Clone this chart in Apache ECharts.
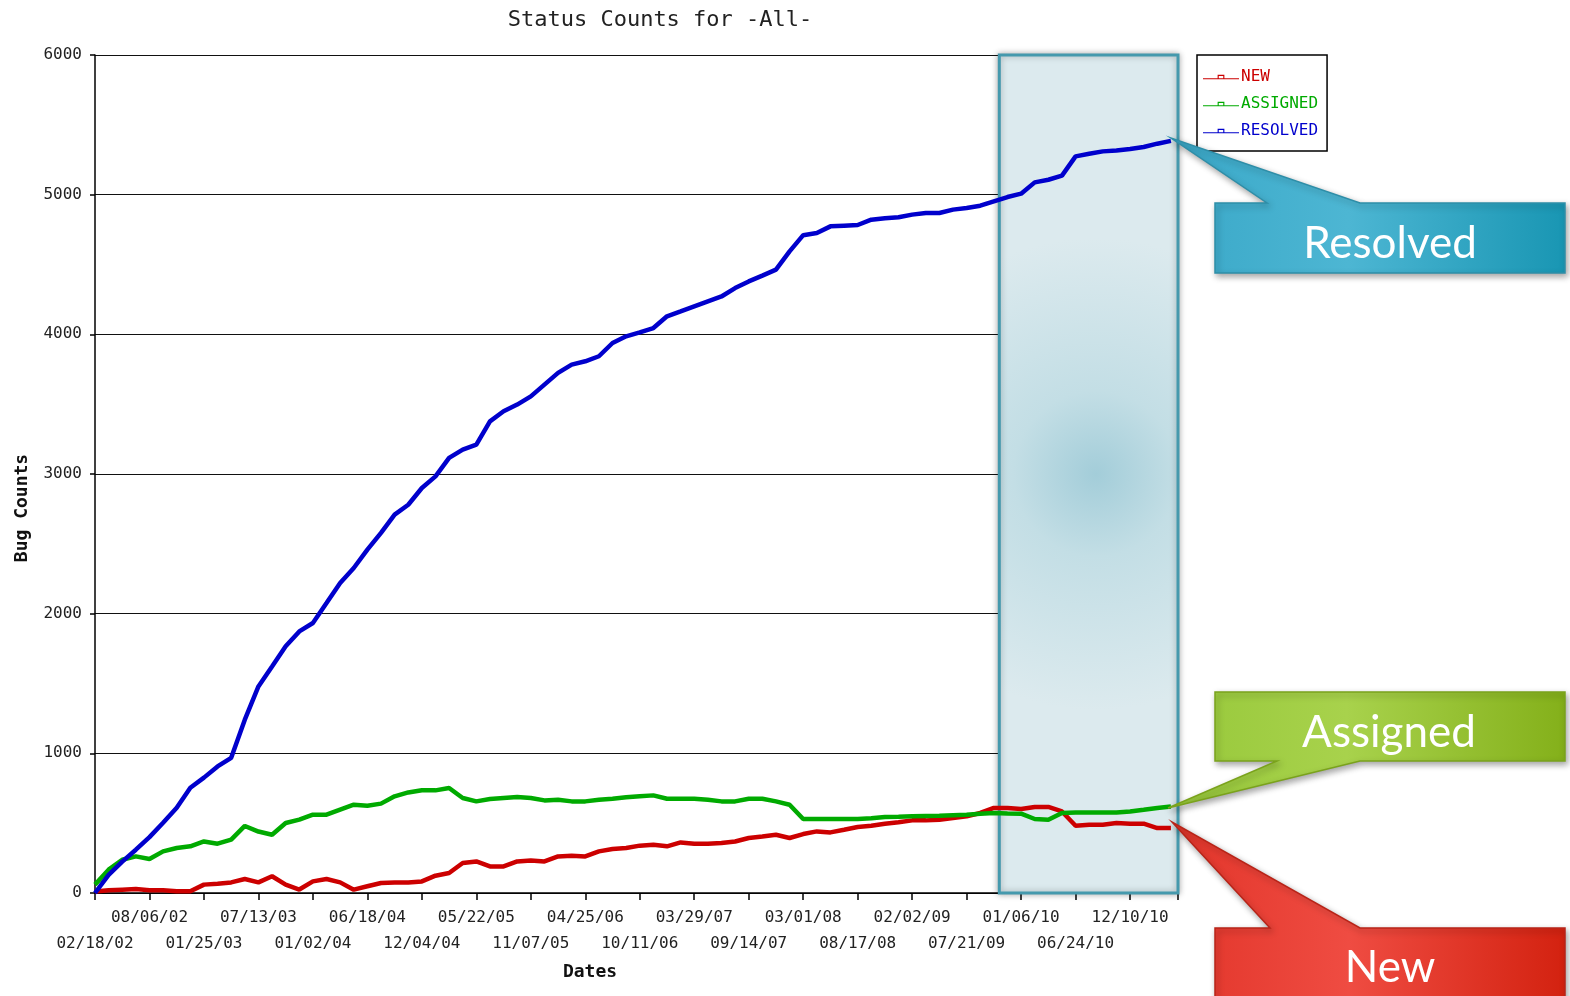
<!DOCTYPE html>
<html lang="en">
<head>
    <meta charset="utf-8">
    <title>Status Counts for -All-</title>
    <script src="https://cdn.jsdelivr.net/npm/echarts@6/dist/echarts.min.js"></script>
    <style>
        html, body { margin: 0; padding: 0; background: #fff; }
        #chart { width: 1570px; height: 996px; }
    </style>
</head>
<body>
    <div id="chart"></div>

    <script>
        // tick labels along the date axis (one per tick, 169 days apart)
        const tickLabels = ['02/18/02', '08/06/02', '01/25/03', '07/13/03', '01/02/04', '06/18/04',
            '12/04/04', '05/22/05', '11/07/05', '04/25/06', '10/11/06', '03/29/07', '09/14/07',
            '03/01/08', '08/17/08', '02/02/09', '07/21/09', '01/06/10', '06/24/10', '12/10/10'];

        // values read every quarter tick interval
        const newCounts = [
            10, 19, 24, 29, 19, 19, 12, 12,
            60, 67, 76, 100, 76, 120, 60, 25,
            83, 100, 76, 24, 48, 72, 76, 76,
            83, 124, 143, 215, 226, 190, 190, 226,
            233, 226, 262, 267, 262, 298, 315, 322,
            339, 346, 334, 362, 353, 353, 358, 369,
            394, 405, 417, 394, 422, 441, 434, 453,
            473, 482, 496, 506, 520, 520, 525, 537,
            549, 573, 609, 609, 601, 616, 616, 584,
            482, 489, 489, 501, 496, 496, 465, 465
        ];
        const assignedCounts = [
            60, 167, 238, 262, 243, 298, 322, 334,
            369, 353, 382, 480, 440, 417, 501, 525,
            561, 561, 597, 632, 625, 640, 692, 720,
            735, 735, 752, 680, 656, 673, 680, 687,
            680, 663, 668, 656, 656, 668, 675, 685,
            692, 699, 675, 675, 675, 668, 656, 656,
            675, 675, 656, 632, 530, 530, 530, 530,
            530, 535, 544, 546, 549, 551, 553, 557,
            561, 567, 573, 570, 568, 530, 525, 573,
            577, 577, 577, 577, 584, 596, 609, 620
        ];
        const resolvedCounts = [
            0, 130, 225, 310, 400, 503, 611, 754,
            826, 906, 968, 1241, 1479, 1622, 1766, 1873,
            1933, 2076, 2220, 2327, 2458, 2578, 2709, 2780,
            2900, 2983, 3115, 3174, 3210, 3377, 3449, 3497,
            3556, 3640, 3724, 3783, 3807, 3843, 3938, 3986,
            4014, 4045, 4129, 4164, 4200, 4236, 4271, 4331,
            4379, 4420, 4463, 4594, 4710, 4725, 4773, 4778,
            4783, 4821, 4831, 4838, 4857, 4869, 4869, 4893,
            4905, 4921, 4952, 4983, 5007, 5088, 5107, 5136,
            5274, 5293, 5310, 5317, 5327, 5341, 5365, 5385
        ];
        const seriesNames = ['NEW', 'ASSIGNED', 'RESOLVED'];
        const seriesColors = ['#cc0000', '#00aa00', '#0000cc'];
        const highlightRange = [16.6, 19.88];   // in tick intervals
        const axisEnd = 19.88;

        const mono = '"DejaVu Sans Mono", "Liberation Mono", monospace';
        const calloutFont = 'Lato, "Open Sans", sans-serif';

        // sample i sits at i/4 tick intervals
        function toPoints(values) {
            return values.map((v, i) => [i / 4, v]);
        }

        // odd ticks go on the upper label row, even ticks on the lower one
        function rowFormatter(parity) {
            return function (v) {
                const i = Math.round(v);
                if (Math.abs(v - i) > 1e-6 || i >= tickLabels.length || i % 2 !== parity) return '';
                return tickLabels[i];
            };
        }

        const legendIcon = 'path://M0,6 H13 V3 H19 V6 H32 V7 H0 Z M14,4 V6 H18 V4 Z';

        function callout(points, colors, text, textX, textY) {
            return [{
                type: 'polygon',
                shape: { points: points },
                style: {
                    fill: {
                        type: 'linear', x: 0, y: 0, x2: 1, y2: 0,
                        colorStops: [
                            { offset: 0, color: colors[0] },
                            { offset: 0.45, color: colors[1] },
                            { offset: 1, color: colors[2] }
                        ]
                    },
                    stroke: colors[3],
                    lineWidth: 1.5,
                    shadowBlur: 6,
                    shadowOffsetX: 2,
                    shadowOffsetY: 3,
                    shadowColor: 'rgba(0,0,0,0.35)'
                },
                z: 20
            }, {
                type: 'text',
                x: textX,
                y: textY,
                style: {
                    text: text,
                    fill: '#fff',
                    font: '44px ' + calloutFont,
                    align: 'center',
                    verticalAlign: 'middle'
                },
                z: 21
            }];
        }

        const chart = echarts.init(document.getElementById('chart'));

        const labelStyle = { fontFamily: mono, fontSize: 16, color: '#222' };

        const option = {
            animation: false,
            backgroundColor: '#fff',
            grid: { left: 95, right: 392, top: 55, bottom: 103 },
            legend: {
                orient: 'vertical',
                left: 1197,
                top: 55,
                padding: [14, 9, 12, 6],
                itemGap: 11,
                itemWidth: 36,
                itemHeight: 10,
                selectedMode: false,
                borderColor: '#000',
                borderWidth: 1.5,
                backgroundColor: '#fff',
                textStyle: { fontFamily: mono, fontSize: 16, padding: [0, 0, 0, -3] },
                data: seriesNames.map((n, i) => ({
                    name: n,
                    icon: legendIcon,
                    textStyle: { color: seriesColors[i] }
                }))
            },
            xAxis: [
                {
                    type: 'value',
                    min: 0,
                    max: axisEnd,
                    interval: 1,
                    splitLine: { show: false },
                    axisLine: { lineStyle: { color: '#000', width: 1.5 } },
                    axisTick: { length: 7, lineStyle: { color: '#000', width: 1.5 } },
                    axisLabel: Object.assign({ margin: 17, formatter: rowFormatter(1) }, labelStyle)
                },
                {
                    type: 'value',
                    position: 'bottom',
                    min: 0,
                    max: axisEnd,
                    interval: 1,
                    splitLine: { show: false },
                    axisLine: { show: false },
                    axisTick: { show: false },
                    axisLabel: Object.assign({ margin: 43, showMinLabel: true, formatter: rowFormatter(0) }, labelStyle)
                }
            ],
            yAxis: {
                type: 'value',
                min: 0,
                max: 6000,
                interval: 1000,
                axisLine: { show: true, lineStyle: { color: '#000', width: 1.5 } },
                axisTick: { show: true, length: 5, lineStyle: { color: '#000', width: 1.5 } },
                splitLine: { lineStyle: { color: '#111', width: 1.2 } },
                axisLabel: Object.assign({ margin: 13, formatter: v => String(v) }, labelStyle)
            },
            series: [
                {
                    name: seriesNames[0],
                    type: 'line',
                    data: toPoints(newCounts),
                    showSymbol: false,
                    lineStyle: { width: 4.5, color: seriesColors[0] },
                    itemStyle: { color: seriesColors[0] },
                    z: 3
                },
                {
                    name: seriesNames[1],
                    type: 'line',
                    data: toPoints(assignedCounts),
                    showSymbol: false,
                    lineStyle: { width: 4.5, color: seriesColors[1] },
                    itemStyle: { color: seriesColors[1] },
                    z: 4
                },
                {
                    name: seriesNames[2],
                    type: 'line',
                    data: toPoints(resolvedCounts),
                    showSymbol: false,
                    lineStyle: { width: 4.5, color: seriesColors[2] },
                    itemStyle: { color: seriesColors[2] },
                    z: 5,
                    markArea: {
                        silent: true,
                        label: { show: false },
                        itemStyle: {
                            color: {
                                type: 'radial', x: 0.54, y: 0.5, r: 1.3,
                                colorStops: [
                                    { offset: 0, color: '#a3cdd9' },
                                    { offset: 0.35, color: '#c3dee5' },
                                    { offset: 1, color: '#dceaee' }
                                ]
                            },
                            borderColor: '#4599ad',
                            borderWidth: 3,
                            shadowBlur: 6,
                            shadowColor: 'rgba(0,0,0,0.3)'
                        },
                        data: [[
                            { xAxis: highlightRange[0], yAxis: 6000 },
                            { xAxis: highlightRange[1], yAxis: 0 }
                        ]]
                    }
                }
            ],
            graphic: [
                {
                    type: 'text',
                    x: 660, y: 20,
                    style: {
                        text: 'Status Counts for -All-',
                        font: '22px ' + mono,
                        fill: '#222',
                        align: 'center',
                        verticalAlign: 'middle'
                    }
                },
                {
                    type: 'text',
                    x: 22, y: 508,
                    rotation: Math.PI / 2,
                    style: {
                        text: 'Bug Counts',
                        font: 'bold 18px ' + mono,
                        fill: '#111',
                        align: 'center',
                        verticalAlign: 'middle'
                    }
                },
                {
                    type: 'text',
                    x: 590, y: 972,
                    style: {
                        text: 'Dates',
                        font: 'bold 18px ' + mono,
                        fill: '#111',
                        align: 'center',
                        verticalAlign: 'middle'
                    }
                }
            ]
                .concat(callout(
                    [[1215, 203], [1267, 203], [1171, 138], [1360, 203], [1565, 203], [1565, 273], [1215, 273]],
                    ['#3aa8c8', '#4db6d3', '#1996b3', '#2e8ea8'], 'Resolved', 1390, 244))
                .concat(callout(
                    [[1215, 692], [1565, 692], [1565, 761], [1360, 761], [1168, 808], [1277, 761], [1215, 761]],
                    ['#97c83a', '#a8d24c', '#84b01a', '#7aa21c'], 'Assigned', 1389, 733))
                .concat(callout(
                    [[1215, 928], [1270, 928], [1172, 822], [1360, 928], [1565, 928], [1565, 1002], [1215, 1002]],
                    ['#e2352a', '#ef4c42', '#d32210', '#b82418'], 'New', 1390, 968))
        };

        chart.setOption(option);
    </script>
</body>
</html>
